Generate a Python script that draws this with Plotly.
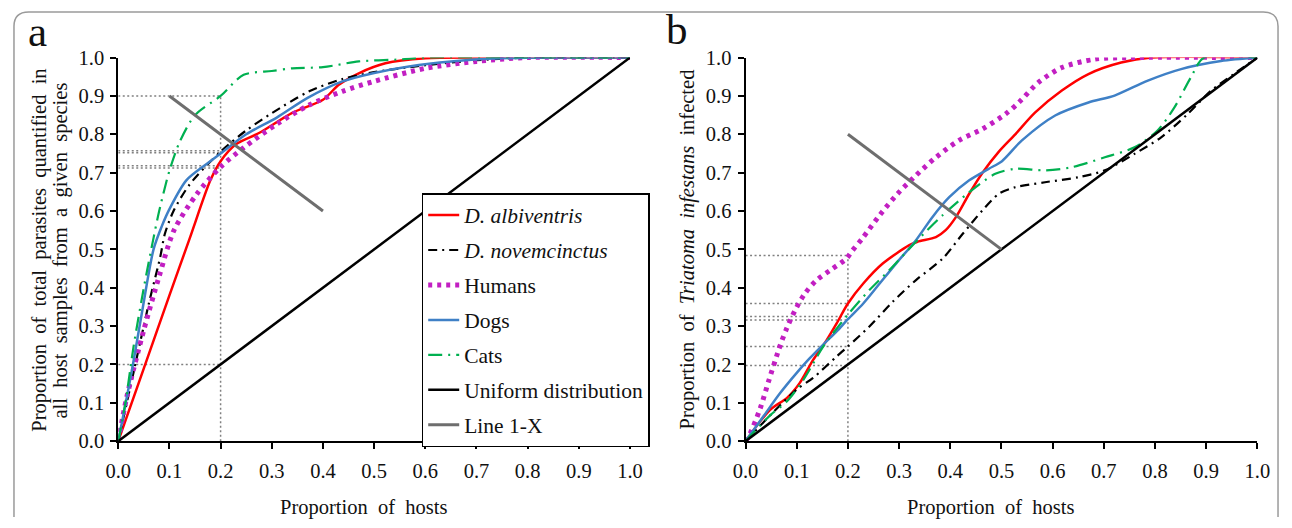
import plotly.graph_objects as go

W, H = 1292, 528

# ---------------- Panel a data ----------------
a_alb_x = [0, 0.05, 0.10, 0.14, 0.18, 0.20, 0.23, 0.276, 0.34, 0.40, 0.431, 0.47, 0.522, 0.60, 0.70, 0.80, 1.0]
a_alb_y = [0, 0.19, 0.38, 0.53, 0.68, 0.73, 0.774, 0.804, 0.856, 0.89, 0.929, 0.959, 0.985, 0.998, 1.0, 1.0, 1.0]

a_nov_x = [0, 0.03, 0.06, 0.082, 0.091, 0.108, 0.14, 0.20, 0.25, 0.30, 0.373, 0.438, 0.50, 0.60, 0.70, 0.80, 1.0]
a_nov_y = [0, 0.18, 0.36, 0.48, 0.54, 0.60, 0.67, 0.755, 0.81, 0.855, 0.912, 0.944, 0.962, 0.98, 0.993, 1.0, 1.0]

a_hum_x = [0, 0.017, 0.05, 0.08, 0.109, 0.154, 0.20, 0.245, 0.309, 0.374, 0.438, 0.50, 0.60, 0.70, 0.80, 1.0]
a_hum_y = [0, 0.117, 0.29, 0.43, 0.55, 0.645, 0.715, 0.765, 0.826, 0.877, 0.912, 0.938, 0.972, 0.99, 1.0, 1.0]

a_dog_x = [0, 0.027, 0.046, 0.069, 0.085, 0.10, 0.133, 0.17, 0.20, 0.25, 0.309, 0.37, 0.438, 0.50, 0.568, 0.65, 0.75, 0.85, 1.0]
a_dog_y = [0, 0.187, 0.333, 0.50, 0.56, 0.605, 0.68, 0.72, 0.75, 0.80, 0.843, 0.895, 0.938, 0.96, 0.977, 0.99, 0.998, 1.0, 1.0]

a_cat_x = [0, 0.014, 0.03, 0.05, 0.069, 0.08, 0.10, 0.12, 0.15, 0.20, 0.245, 0.30, 0.34, 0.40, 0.47, 0.55, 0.60, 1.0]
a_cat_y = [0, 0.10, 0.247, 0.40, 0.53, 0.60, 0.705, 0.78, 0.85, 0.90, 0.955, 0.965, 0.972, 0.975, 0.99, 0.995, 1.0, 1.0]

a_ref_h = [0.9, 0.757, 0.752, 0.718, 0.712, 0.2]
a_ref_v_top = 0.9
a_line1x_x = [0.1, 0.4]
a_line1x_y = [0.9, 0.6]

# ---------------- Panel b data ----------------
b_alb_x = [0, 0.048, 0.081, 0.106, 0.132, 0.155, 0.178, 0.20, 0.23, 0.268, 0.32, 0.336, 0.372, 0.391, 0.411, 0.437, 0.463, 0.495, 0.527, 0.566, 0.618, 0.67, 0.734, 0.793, 1.0]
b_alb_y = [0, 0.082, 0.113, 0.152, 0.212, 0.256, 0.307, 0.359, 0.411, 0.463, 0.511, 0.52, 0.532, 0.55, 0.584, 0.645, 0.70, 0.755, 0.80, 0.857, 0.914, 0.957, 0.987, 1.0, 1.0]

b_nov_x = [0, 0.05, 0.10, 0.132, 0.178, 0.20, 0.242, 0.288, 0.333, 0.385, 0.424, 0.463, 0.495, 0.527, 0.585, 0.65, 0.702, 0.76, 0.812, 0.864, 0.909, 0.954, 1.0]
b_nov_y = [0, 0.07, 0.135, 0.165, 0.221, 0.247, 0.299, 0.364, 0.42, 0.476, 0.54, 0.602, 0.645, 0.662, 0.675, 0.688, 0.706, 0.749, 0.792, 0.853, 0.913, 0.957, 1.0]

b_hum_x = [0, 0.009, 0.029, 0.045, 0.068, 0.081, 0.097, 0.116, 0.139, 0.168, 0.197, 0.207, 0.229, 0.262, 0.297, 0.333, 0.372, 0.417, 0.463, 0.508, 0.534, 0.572, 0.618, 0.683, 0.75, 1.0]
b_hum_y = [0, 0.02, 0.087, 0.156, 0.251, 0.296, 0.342, 0.385, 0.42, 0.448, 0.476, 0.494, 0.53, 0.589, 0.645, 0.693, 0.74, 0.784, 0.814, 0.853, 0.883, 0.935, 0.974, 0.996, 1.0, 1.0]

b_dog_x = [0, 0.035, 0.068, 0.10, 0.126, 0.155, 0.178, 0.20, 0.23, 0.262, 0.294, 0.333, 0.365, 0.398, 0.437, 0.475, 0.501, 0.54, 0.605, 0.67, 0.721, 0.786, 0.851, 0.929, 1.0]
b_dog_y = [0, 0.065, 0.126, 0.178, 0.217, 0.256, 0.286, 0.318, 0.359, 0.411, 0.463, 0.524, 0.584, 0.636, 0.68, 0.71, 0.73, 0.784, 0.849, 0.883, 0.901, 0.94, 0.97, 0.991, 1.0]

b_cat_x = [0, 0.05, 0.081, 0.113, 0.152, 0.20, 0.242, 0.281, 0.333, 0.385, 0.437, 0.488, 0.527, 0.585, 0.637, 0.702, 0.76, 0.805, 0.838, 0.87, 0.896, 1.0]
b_cat_y = [0, 0.07, 0.104, 0.16, 0.247, 0.33, 0.394, 0.446, 0.52, 0.589, 0.649, 0.697, 0.71, 0.706, 0.714, 0.74, 0.766, 0.81, 0.87, 0.948, 1.0, 1.0]

b_ref_h = [0.484, 0.359, 0.325, 0.316, 0.247, 0.197]
b_ref_v_top = 0.484
b_line1x_x = [0.2, 0.5]
b_line1x_y = [0.8, 0.5]

uniform_x = [0, 1]
uniform_y = [0, 1]

tick_vals = [i / 10 for i in range(11)]
tick_text = ["%.1f" % v for v in tick_vals]

names = ["<i>D. albiventris</i>", "<i>D. novemcinctus</i>", "Humans", "Dogs", "Cats",
         "Uniform distribution", "Line 1-X"]

RED = "#ff0000"
BLACK = "#000000"
MAG = "#c21fc2"
BLUE = "#3f80c6"
GREEN = "#00b050"
GRAY = "#6e6e6e"
REFC = "#808080"
FONT = "'Liberation Serif', 'Times New Roman', serif"

styles = {
    "alb": dict(color=RED, width=2.5, dash="solid"),
    "nov": dict(color=BLACK, width=2.2, dash="9px,5px,2px,5px"),
    "hum": dict(color=MAG, width=5, dash="4px,5px"),
    "dog": dict(color=BLUE, width=2.5, dash="solid"),
    "cat": dict(color=GREEN, width=2.2, dash="14px,6px,2px,6px"),
    "uni": dict(color=BLACK, width=2.5, dash="solid"),
    "l1x": dict(color=GRAY, width=3, dash="solid"),
}

fig = go.Figure()

def refs(xa, ya, hs, vtop):
    for h in hs:
        fig.add_trace(go.Scatter(x=[0, 0.2], y=[h, h], mode="lines", xaxis=xa, yaxis=ya,
                                 line=dict(color=REFC, width=1.5, dash="2px,2.5px"),
                                 showlegend=False, hoverinfo="skip"))
    fig.add_trace(go.Scatter(x=[0.2, 0.2], y=[0, vtop], mode="lines", xaxis=xa, yaxis=ya,
                             line=dict(color=REFC, width=1.5, dash="2px,2.5px"),
                             showlegend=False, hoverinfo="skip"))

refs("x", "y", a_ref_h, a_ref_v_top)
refs("x2", "y2", b_ref_h, b_ref_v_top)

panels = [
    ("x", "y", [(a_alb_x, a_alb_y, "alb"), (a_nov_x, a_nov_y, "nov"), (a_hum_x, a_hum_y, "hum"),
                (a_dog_x, a_dog_y, "dog"), (a_cat_x, a_cat_y, "cat"),
                (uniform_x, uniform_y, "uni"), (a_line1x_x, a_line1x_y, "l1x")]),
    ("x2", "y2", [(b_alb_x, b_alb_y, "alb"), (b_nov_x, b_nov_y, "nov"), (b_hum_x, b_hum_y, "hum"),
                  (b_dog_x, b_dog_y, "dog"), (b_cat_x, b_cat_y, "cat"),
                  (uniform_x, uniform_y, "uni"), (b_line1x_x, b_line1x_y, "l1x")]),
]

for pi, (xa, ya, series) in enumerate(panels):
    for si, (xs, ys, key) in enumerate(series):
        smooth = key not in ("uni", "l1x")
        fig.add_trace(go.Scatter(
            x=xs, y=ys, mode="lines", xaxis=xa, yaxis=ya, name=names[si],
            line=dict(color=styles[key]["color"], width=styles[key]["width"],
                      dash=styles[key]["dash"], shape="spline" if smooth else "linear",
                      smoothing=0.8 if smooth else None),
            showlegend=(pi == 0), legendgroup=key, hoverinfo="skip"))

def px_x(p):
    return p / W

def px_y(p):
    return 1 - p / H

xdom_a = [px_x(107.4), px_x(629.7)]
xdom_b = [px_x(747.6), px_x(1269.9)]
ydom = [px_y(448.9), px_y(48.6)]

axis_common = dict(range=[0, 1], tickvals=tick_vals, ticktext=tick_text, showgrid=False,
                   zeroline=False, showline=True, linecolor="black", linewidth=2,
                   ticks="outside", ticklen=6, tickwidth=1.5, tickcolor="black",
                   tickfont=dict(family=FONT, size=20.5, color="#111"))

fig.update_layout(
    width=W, height=H, autosize=False,
    margin=dict(l=0, r=0, t=0, b=0),
    paper_bgcolor="white", plot_bgcolor="white",
    xaxis=dict(domain=xdom_a, anchor="y", ticklabelstandoff=4, **axis_common),
    yaxis=dict(domain=ydom, anchor="x", ticklabelstandoff=2, **axis_common),
    xaxis2=dict(domain=xdom_b, anchor="y2", ticklabelstandoff=4, **axis_common),
    yaxis2=dict(domain=ydom, anchor="x2", ticklabelstandoff=2, **axis_common),
    legend=dict(x=px_x(417.1), y=px_y(190.0), xanchor="left", yanchor="top",
                bgcolor="white", bordercolor="black", borderwidth=1.5,
                font=dict(family=FONT, size=21.5, color="#111"),
                tracegroupgap=4, itemwidth=31, traceorder="grouped"),
    showlegend=True,
)

ann = []
def text(x, y, s, size, angle=0):
    ann.append(dict(x=px_x(x), y=px_y(y), xref="paper", yref="paper", text=s, showarrow=False,
                    textangle=angle, xanchor="center", yanchor="middle",
                    font=dict(family=FONT, size=size, color="#111")))

text(357.6, 517.8, "Proportion  of  hosts", 20.5)
text(997.6, 517.8, "Proportion  of  hosts", 20.5)
text(27.0, 249.6, "Proportion  of  total  parasites  quantified  in", 20.5, -90)
text(48.3, 249.6, "all  host  samples  from  a  given  species", 20.5, -90)
text(688.2, 248.5, "Proportion  of  <i>Triatoma  infestans</i>  infected", 20.5, -90)
text(25.5, 21.9, "a", 43)
text(678.1, 18.8, "b", 43)
fig.update_layout(annotations=ann)

frame = ("M {},{} L {},{} Q {},{} {},{} L {},{} Q {},{} {},{} L {},{}").format(
    px_x(1), px_y(528), px_x(1), px_y(16), px_x(1), px_y(1), px_x(16), px_y(1),
    px_x(1276), px_y(1), px_x(1291), px_y(1), px_x(1291), px_y(16), px_x(1291), px_y(528))
fig.add_shape(type="path", path=frame, xref="paper", yref="paper",
              line=dict(color="#9a9a9a", width=1.5))

fig.write_html("out.html", config={"displayModeBar": False},
               post_script="document.body.style.margin='0';document.body.style.overflow='hidden';")
